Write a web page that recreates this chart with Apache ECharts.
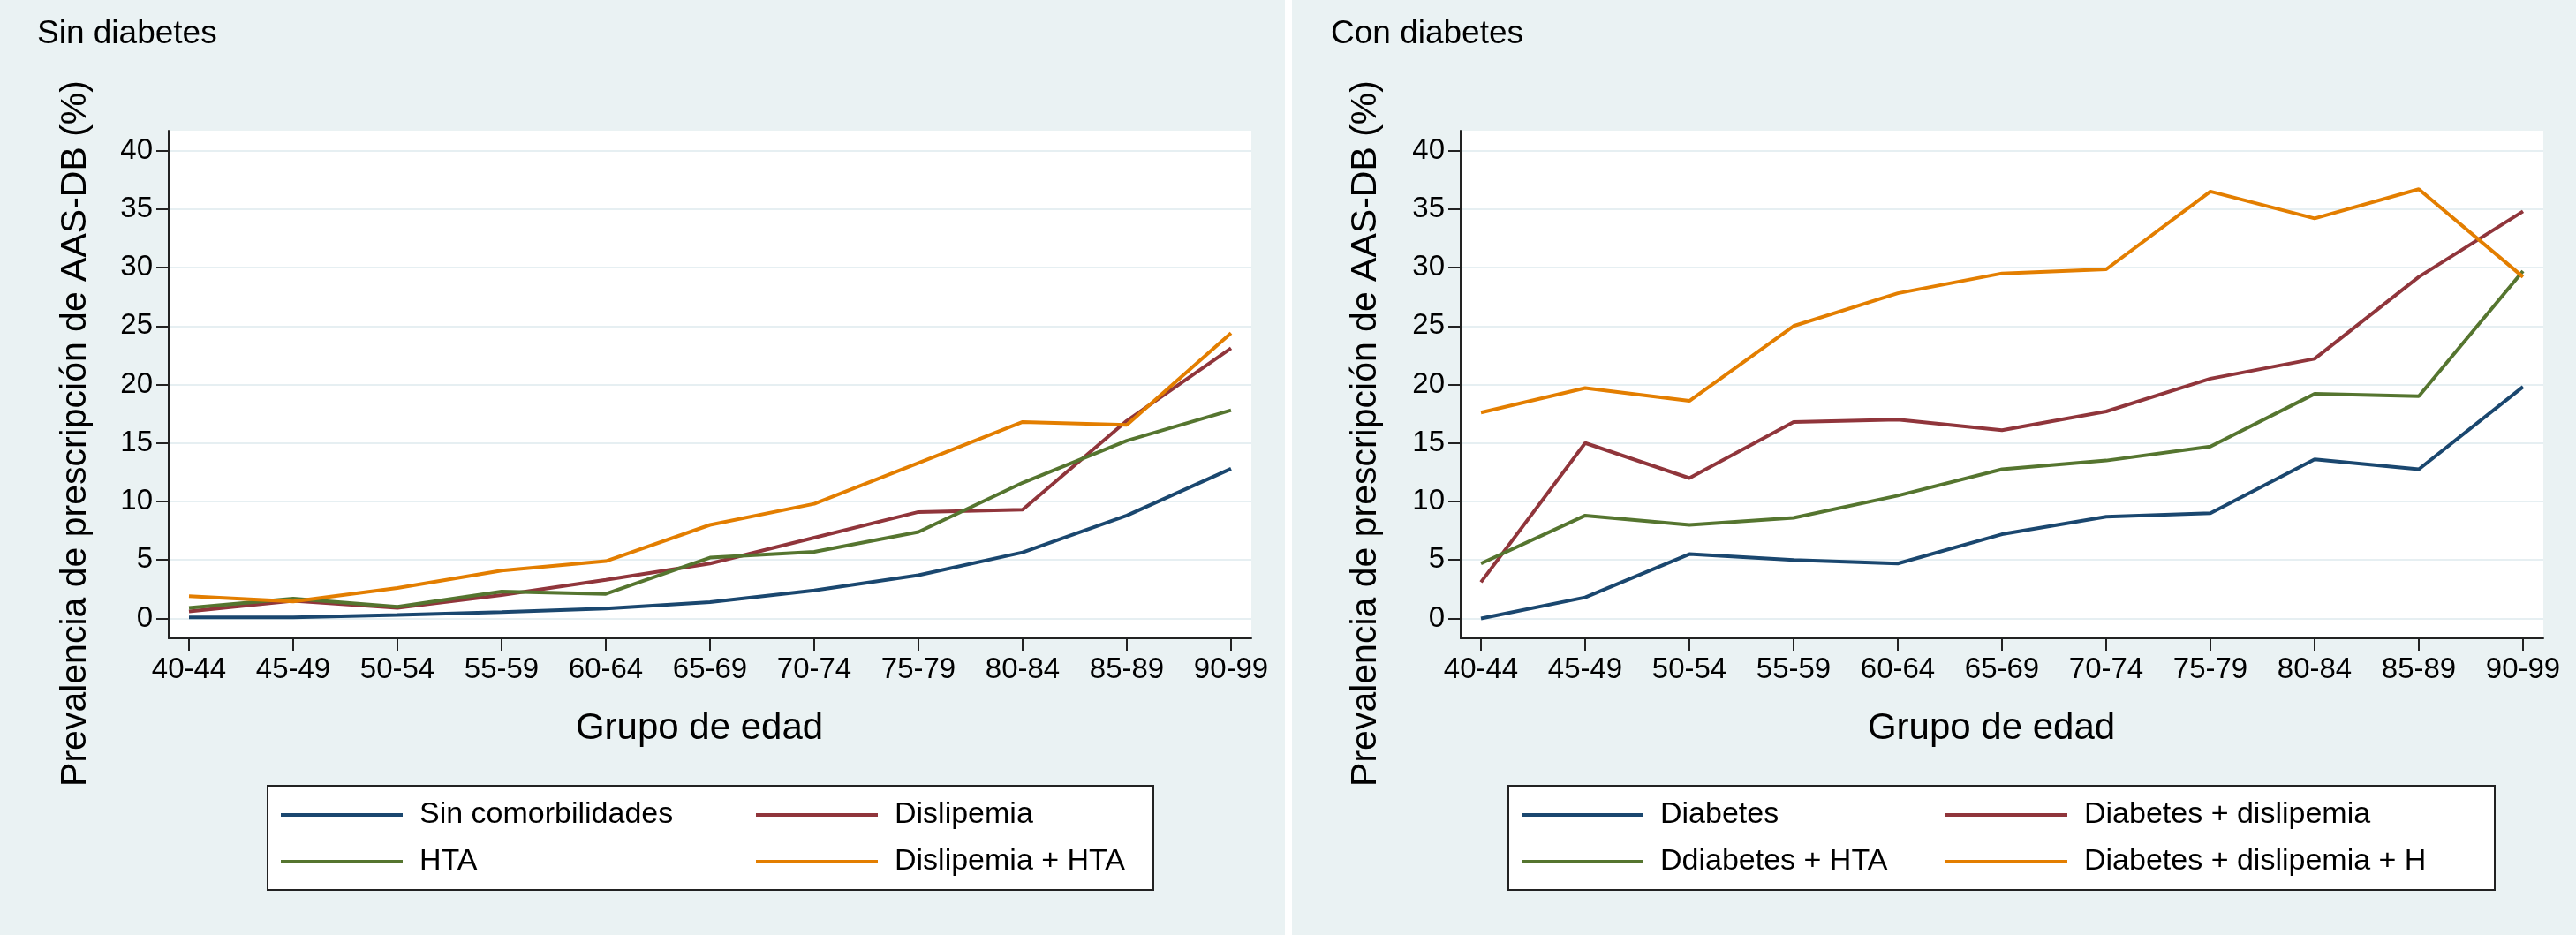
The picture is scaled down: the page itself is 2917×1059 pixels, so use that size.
<!DOCTYPE html>
<html>
<head>
<meta charset="utf-8">
<script src="https://cdn.jsdelivr.net/npm/echarts@6/dist/echarts.min.js"></script>
<style>
html,body{margin:0;padding:0;background:#eaf2f3;}
#chart{width:2917px;height:1059px;}
</style>
</head>
<body>
<div id="chart"></div>
<script>
// ---- data ----
const categories = ['40-44','45-49','50-54','55-59','60-64','65-69','70-74','75-79','80-84','85-89','90-99'];
const yTicks = [0,5,10,15,20,25,30,35,40];

// Sin diabetes
const sinComorbilidades = [0.1, 0.1, 0.3, 0.55, 0.85, 1.4, 2.4, 3.7, 5.65, 8.8, 12.8];
const dislipemia        = [0.6, 1.5, 0.9, 2.0, 3.3, 4.7, 6.9, 9.1, 9.3, 16.9, 23.1];
const hta               = [0.9, 1.7, 1.0, 2.3, 2.1, 5.2, 5.7, 7.4, 11.6, 15.2, 17.8];
const dislipemiaHta     = [1.9, 1.45, 2.6, 4.1, 4.9, 8.0, 9.8, 13.3, 16.8, 16.55, 24.4];

// Con diabetes
const diabetes              = [0.0, 1.8, 5.5, 5.0, 4.7, 7.2, 8.7, 9.0, 13.6, 12.75, 19.8];
const diabetesDislipemia    = [3.1, 15.0, 12.0, 16.8, 17.0, 16.1, 17.7, 20.5, 22.2, 29.2, 34.8];
const ddiabetesHta          = [4.7, 8.8, 8.0, 8.6, 10.5, 12.75, 13.5, 14.7, 19.2, 19.0, 29.7];
const diabetesDislipemiaH   = [17.6, 19.7, 18.6, 25.0, 27.8, 29.5, 29.85, 36.5, 34.2, 36.7, 29.2];

const leftNames  = ['Sin comorbilidades','Dislipemia','HTA','Dislipemia + HTA'];
const rightNames = ['Diabetes','Diabetes + dislipemia','Ddiabetes + HTA','Diabetes + dislipemia + H'];
const leftValues  = [sinComorbilidades, dislipemia, hta, dislipemiaHta];
const rightValues = [diabetes, diabetesDislipemia, ddiabetesHta, diabetesDislipemiaH];
const colors = ['#1a476f','#90353b','#55752f','#e37e00'];

// ---- chart ----
const FONT = '"Liberation Sans", Arial, Helvetica, sans-serif';
const chart = echarts.init(document.getElementById('chart'), null, {renderer:'canvas'});
const catIdx = categories.map((c,i)=>i);

function xAxisDef(gridIndex){
  return {
    gridIndex, type:'value', min:-0.195, max:categories.length-1+0.195,
    name:'Grupo de edad', nameLocation:'middle', nameGap:81,
    nameTextStyle:{fontFamily:FONT, fontSize:42, color:'#000', padding:[0,24,0,0]},
    axisLine:{show:true, onZero:false, lineStyle:{color:'#222', width:2}},
    axisTick:{show:true, length:14, customValues:catIdx, lineStyle:{color:'#222', width:2}},
    axisLabel:{customValues:catIdx, margin:19, fontFamily:FONT, fontSize:33, color:'#000',
      formatter:v=>categories[Math.round(v)]},
    splitLine:{show:false}
  };
}
function yAxisDef(gridIndex){
  return {
    gridIndex, type:'value', min:-1.7, max:41.7,
    axisLine:{show:true, onZero:false, lineStyle:{color:'#222', width:2}},
    axisTick:{show:true, length:14, customValues:yTicks, lineStyle:{color:'#222', width:2}},
    axisLabel:{customValues:yTicks, margin:18, fontFamily:FONT, fontSize:33, color:'#000'},
    splitLine:{show:true, lineStyle:{color:'#e6eff2', width:2}}
  };
}

const series = [];
leftNames.forEach((n,k)=>series.push({
  name:n, type:'line', xAxisIndex:0, yAxisIndex:0, symbol:'none', animation:false,
  lineStyle:{width:4, color:colors[k]}, itemStyle:{color:colors[k]},
  data: leftValues[k].map((v,i)=>[i,v])
}));
rightNames.forEach((n,k)=>series.push({
  name:n, type:'line', xAxisIndex:1, yAxisIndex:1, symbol:'none', animation:false,
  lineStyle:{width:4, color:colors[k]}, itemStyle:{color:colors[k]},
  data: rightValues[k].map((v,i)=>[i,v])
}));

function legendItem(name, left, top){
  return {
    data:[name], left, top, padding:0, icon:'rect', itemWidth:138, itemHeight:4,
    selectedMode:false, orient:'horizontal',
    textStyle:{fontFamily:FONT, fontSize:34, color:'#000', padding:[0,0,0,14], lineHeight:34}
  };
}
const legends = [
  legendItem(leftNames[0], 318, 906), legendItem(leftNames[1], 856, 906),
  legendItem(leftNames[2], 318, 959), legendItem(leftNames[3], 856, 959),
  legendItem(rightNames[0], 1723, 906), legendItem(rightNames[1], 2203, 906),
  legendItem(rightNames[2], 1723, 959), legendItem(rightNames[3], 2203, 959)
];

const yTitle = 'Prevalencia de prescripción de AAS-DB (%)';
const option = {
  backgroundColor:'#eaf2f3',
  animation:false,
  textStyle:{fontFamily:FONT},
  title:[
    {text:'Sin diabetes', left:42, top:20, padding:0, textStyle:{fontFamily:FONT, fontSize:37, fontWeight:'normal', color:'#000'}},
    {text:'Con diabetes', left:1507, top:20, padding:0, textStyle:{fontFamily:FONT, fontSize:37, fontWeight:'normal', color:'#000'}}
  ],
  grid:[
    {left:191, top:148, width:1226, height:575, show:true, backgroundColor:'#ffffff', borderWidth:0},
    {left:1654, top:148, width:1226, height:575, show:true, backgroundColor:'#ffffff', borderWidth:0}
  ],
  xAxis:[xAxisDef(0), xAxisDef(1)],
  yAxis:[yAxisDef(0), yAxisDef(1)],
  legend:legends,
  graphic:[
    {type:'rect', z:-1, shape:{x:1455, y:0, width:8, height:1059}, style:{fill:'#ffffff'}, silent:true},
    {type:'rect', z:-1, shape:{x:303, y:890, width:1003, height:118}, style:{fill:'#ffffff', stroke:'#222', lineWidth:2}, silent:true},
    {type:'rect', z:-1, shape:{x:1708, y:890, width:1117, height:118}, style:{fill:'#ffffff', stroke:'#222', lineWidth:2}, silent:true},
    {type:'text', x:86, y:491, rotation:Math.PI/2, silent:true,
      style:{text:yTitle, font:'41px ' + FONT, fill:'#000', textAlign:'center', textVerticalAlign:'middle'}},
    {type:'text', x:1547, y:491, rotation:Math.PI/2, silent:true,
      style:{text:yTitle, font:'41px ' + FONT, fill:'#000', textAlign:'center', textVerticalAlign:'middle'}}
  ],
  series
};
chart.setOption(option);
</script>
</body>
</html>
